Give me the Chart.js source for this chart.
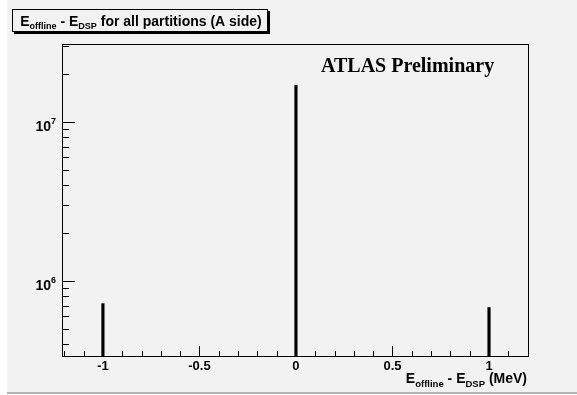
<!DOCTYPE html>
<html>
<head>
<meta charset="utf-8">
<script src="https://cdn.jsdelivr.net/npm/chart.js@4"></script>
<style>
  body { margin: 0; background: #fff; }
  canvas { display: block; }
</style>
</head>
<body>
<canvas id="diffChart" width="577" height="395"></canvas>
<script>
// bin centres and entries (E_offline - E_DSP, MeV)
const binCenters = [-1, 0, 1];
const counts = [7.2e5, 1.7e7, 6.8e5];

// axis ticks
const xMajor = [-1, -0.5, 0, 0.5, 1];
const xLabels = ['-1', '-0.5', '0', '0.5', '1'];
const yMajor = [1e6, 1e7];
const yExp = ['6', '7'];
const yMinor = [4e5, 5e5, 6e5, 7e5, 8e5, 9e5, 2e6, 3e6, 4e6, 5e6, 6e6, 7e6, 8e6, 9e6, 2e7, 3e7];

const bold = (px) => 'bold ' + px + 'px "Liberation Sans", Arial, sans-serif';

// draw text made of pieces (normal + subscript/superscript)
function drawRuns(ctx, runs, x, y, align) {
    let w = 0;
    runs.forEach(r => { ctx.font = bold(r.size); w += ctx.measureText(r.t).width; });
    let cx = align === 'right' ? x - w : (align === 'center' ? x - w / 2 : x);
    ctx.textAlign = 'left';
    ctx.textBaseline = 'alphabetic';
    runs.forEach(r => {
        ctx.font = bold(r.size);
        ctx.fillText(r.t, cx, y + (r.dy || 0));
        cx += ctx.measureText(r.t).width;
    });
}

const rootStyle = {
    id: 'rootStyle',
    beforeDraw(chart) {
        const ctx = chart.ctx;
        ctx.save();
        ctx.fillStyle = '#fff';
        ctx.fillRect(0, 0, chart.width, chart.height);
        ctx.fillStyle = '#f2f2f2';
        ctx.fillRect(7, 0, chart.width - 7, 392);
        ctx.fillStyle = '#b4b4b4';
        ctx.fillRect(7, 392, chart.width - 7, 2);
        ctx.restore();
    },
    afterDraw(chart) {
        const ctx = chart.ctx;
        const a = chart.chartArea;
        const xs = chart.scales.x, ys = chart.scales.y;
        ctx.save();
        ctx.strokeStyle = '#000';
        ctx.lineWidth = 1;
        ctx.strokeRect(Math.round(a.left) + 0.5, Math.round(a.top) + 0.5,
            Math.round(a.right - a.left), Math.round(a.bottom - a.top));

        // y ticks
        ctx.beginPath();
        yMajor.forEach(v => {
            const y = Math.round(ys.getPixelForValue(v)) + 0.5;
            ctx.moveTo(a.left, y); ctx.lineTo(a.left + 13, y);
        });
        yMinor.forEach(v => {
            const y = Math.round(ys.getPixelForValue(v)) + 0.5;
            ctx.moveTo(a.left, y); ctx.lineTo(a.left + 7, y);
        });
        // x ticks
        for (let i = -12; i <= 12; i++) {
            const v = i / 10;
            if (v < xs.min || v > xs.max) continue;
            const x = Math.round(xs.getPixelForValue(v)) + 0.5;
            const len = (i % 5 === 0) ? 10 : 5;
            ctx.moveTo(x, a.bottom); ctx.lineTo(x, a.bottom - len);
        }
        ctx.stroke();

        ctx.fillStyle = '#000';
        // y labels
        yMajor.forEach((v, i) => {
            const y = ys.getPixelForValue(v);
            drawRuns(ctx, [{t: '10', size: 14}, {t: yExp[i], size: 9, dy: -7}], 56, y + 9, 'right');
        });
        // x labels
        ctx.font = bold(13);
        ctx.textAlign = 'center';
        ctx.textBaseline = 'alphabetic';
        xMajor.forEach((v, i) => {
            ctx.fillText(xLabels[i], xs.getPixelForValue(v), 370);
        });
        // x title
        drawRuns(ctx, [
            {t: 'E', size: 14}, {t: 'offline', size: 9.5, dy: 4},
            {t: ' - E', size: 14}, {t: 'DSP', size: 9.5, dy: 4},
            {t: ' (MeV)', size: 14}
        ], 527, 383, 'right');

        // title box
        ctx.fillStyle = '#000';
        ctx.fillRect(14, 11, 256, 23);
        ctx.fillStyle = '#f2f2f2';
        ctx.fillRect(12, 9, 255, 22);
        ctx.strokeRect(12.5, 9.5, 255, 22);
        ctx.fillStyle = '#000';
        drawRuns(ctx, [
            {t: 'E', size: 14}, {t: 'offline', size: 9, dy: 3},
            {t: ' - E', size: 14}, {t: 'DSP', size: 9, dy: 3},
            {t: ' for all partitions (A side)', size: 14}
        ], 141, 26, 'center');

        // ATLAS label
        ctx.font = 'bold 20px "Liberation Serif", "Times New Roman", serif';
        ctx.textAlign = 'left';
        ctx.fillText('ATLAS Preliminary', 321, 72);
        ctx.restore();
    }
};

const ctx = document.getElementById('diffChart');
new Chart(ctx, {
    type: 'bar',
    data: {
        datasets: [{
            data: binCenters.map((x, i) => ({x: x, y: counts[i]})),
            backgroundColor: '#000',
            borderWidth: 0,
            barThickness: 2.5
        }]
    },
    options: {
        responsive: false,
        animation: false,
        layout: { padding: { left: 62, top: 44, right: 49, bottom: 39 } },
        plugins: { legend: { display: false }, tooltip: { enabled: false } },
        scales: {
            x: { type: 'linear', offset: false, min: -1.212, max: 1.202, display: false },
            y: { type: 'logarithmic', min: 3.37e5, max: 3.1e7, display: false }
        }
    },
    plugins: [rootStyle]
});
</script>
</body>
</html>
